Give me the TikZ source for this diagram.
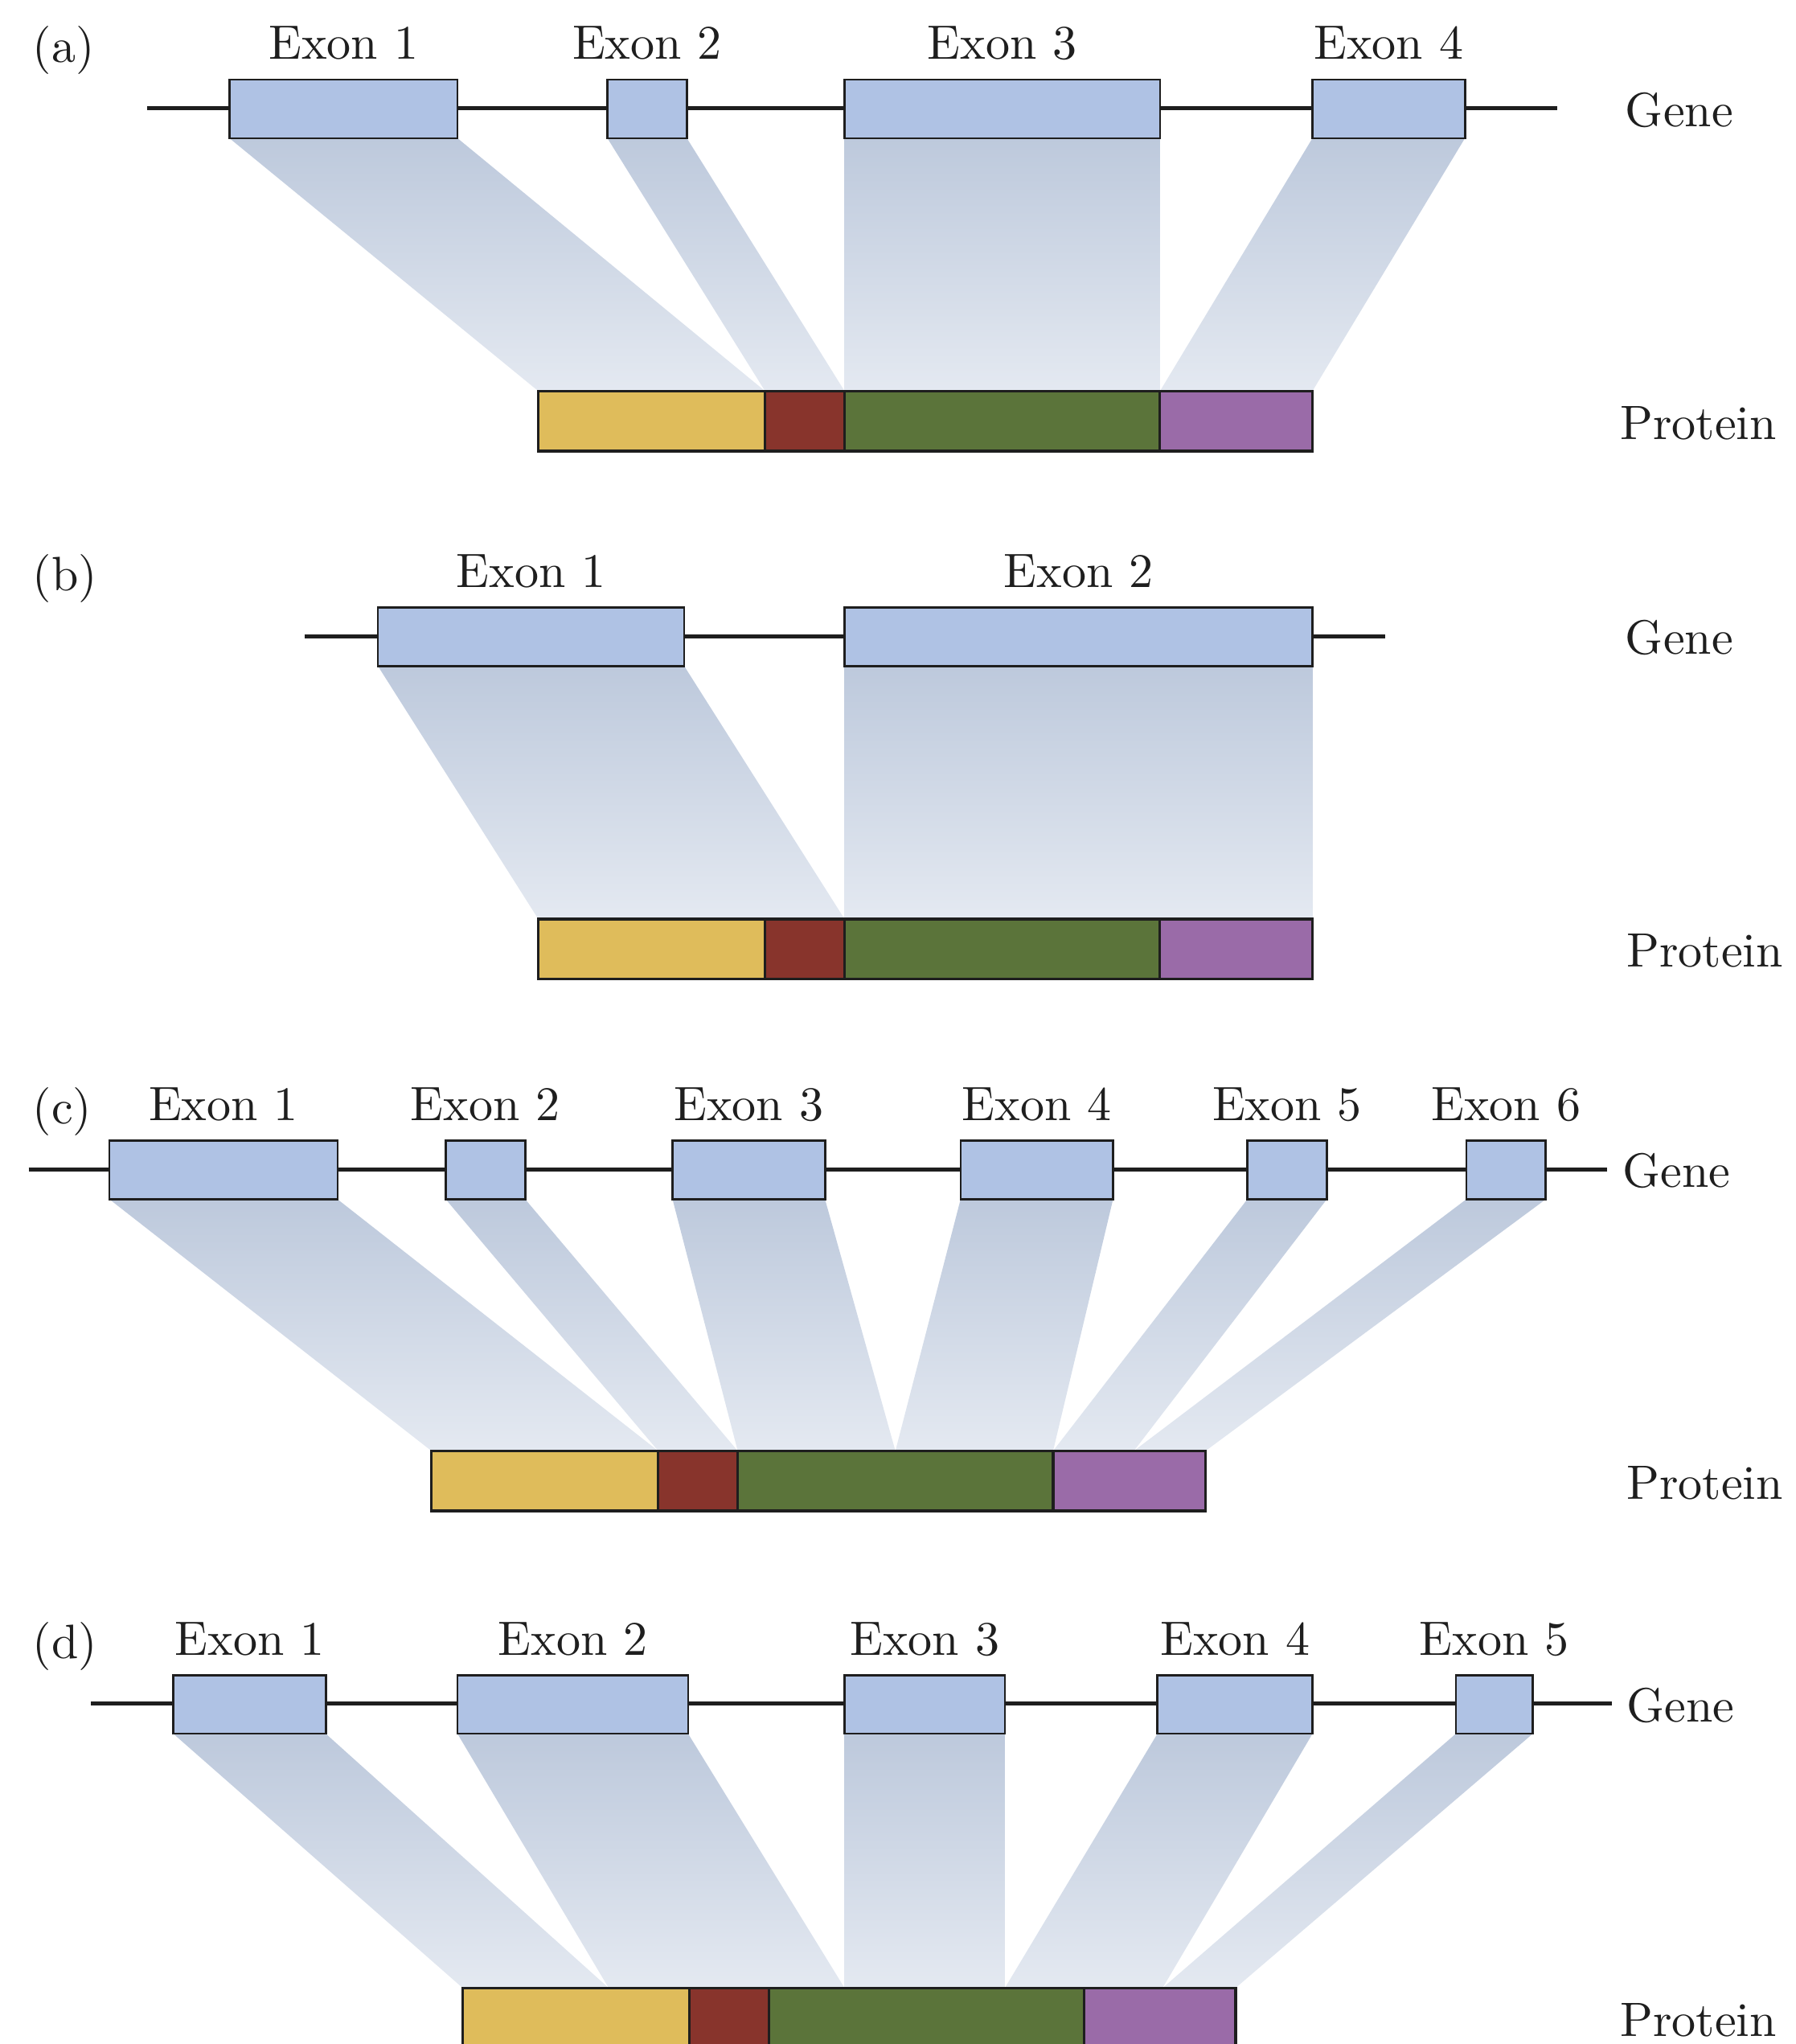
\documentclass[tikz,border=0pt]{standalone}
\usepackage{fontspec}
% the 10pt design of Latin Modern at every size (heavier, wider letters)
\setmainfont{lmroman10-regular.otf}
\pgfdeclarelayer{background}
\pgfsetlayers{background,main}
\definecolor{linecol}{HTML}{1E1E1E}
\definecolor{exonfill}{HTML}{AFC2E4}
\definecolor{shadetop}{HTML}{BDC9DC}
\definecolor{shadebot}{HTML}{E4E9F1}
\definecolor{domyellow}{HTML}{DFBC5B}
\definecolor{domred}{HTML}{88342C}
\definecolor{domgreen}{HTML}{5B743A}
\definecolor{dompurple}{HTML}{9A6BA8}

% exon box with its caption: name, left, right, top, caption
\newcommand\exonat[5]{%
  \node[exonbox, minimum width={(#3)-(#2)}] (#1) at ({((#2)+(#3))/2},{(#4)+22.5}) {};
  \node[lbl] (#1-t) at ({((#2)+(#3))/2},{(#4)-15.5}) {#5};
}
% protein domain segment: name, left, right, top, colour
\newcommand\protseg[5]{%
  \node[segbox, fill=#5, minimum width={(#3)-(#2)}] (#1) at ({((#2)+(#3))/2},{(#4)+23}) {};
}
% exon-to-protein band: exon node, left target, right target
\newcommand\band[3]{%
  \shade[link] (#1.south west) -- (#1.south east) -- (#3) -- (#2) -- cycle;
}

\begin{document}
\begin{tikzpicture}[x=1pt,y=-1pt,
  exonbox/.style={draw=linecol, line width=1.6pt, fill=exonfill, rectangle,
    inner sep=0pt, outer sep=0pt, minimum height=45pt},
  segbox/.style={draw=linecol, line width=2pt, rectangle,
    inner sep=0pt, outer sep=0pt, minimum height=46pt},
  geneline/.style={draw=linecol, line width=3pt},
  link/.style={top color=shadetop, bottom color=shadebot, draw=none},
  lbl/.style={inner sep=0pt, anchor=base, text=linecol,
    font=\fontsize{37}{44}\selectfont},
  side/.style={lbl, anchor=base west}]

\useasboundingbox (0,0) rectangle (1378,1568);

% ---------------- (a) ----------------
\node[side] (a-tag) at (25,48) {(a)};
\exonat{a1}{176}{351}{61}{Exon 1}
\exonat{a2}{466}{527}{61}{Exon 2}
\exonat{a3}{648}{890}{61}{Exon 3}
\exonat{a4}{1007}{1124}{61}{Exon 4}
\protseg{pa1}{413}{587}{300}{domyellow}
\protseg{pa2}{587}{648}{300}{domred}
\protseg{pa3}{648}{890}{300}{domgreen}
\protseg{pa4}{890}{1007}{300}{dompurple}
\node[side] (a-gene) at (1247,97) {Gene};
\node[side] (a-prot) at (1243,337) {Protein};
\coordinate (a-gl) at (113,83);
\coordinate (a-gr) at (1195,83);
\foreach \n/\x in {0/413,1/587,2/648,3/890,4/1007}
  \coordinate (a-p\n) at (\x,300);
\begin{pgfonlayer}{background}
  \draw[geneline] (a-gl) -- (a-gr);
  \band{a1}{a-p0}{a-p1}
  \band{a2}{a-p1}{a-p2}
  \band{a3}{a-p2}{a-p3}
  \band{a4}{a-p3}{a-p4}
\end{pgfonlayer}

% ---------------- (b) ----------------
\node[side] (b-tag) at (25,453) {(b)};
\exonat{b1}{290}{525}{466}{Exon 1}
\exonat{b2}{648}{1007}{466}{Exon 2}
\protseg{pb1}{413}{587}{705}{domyellow}
\protseg{pb2}{587}{648}{705}{domred}
\protseg{pb3}{648}{890}{705}{domgreen}
\protseg{pb4}{890}{1007}{705}{dompurple}
\node[side] (b-gene) at (1247,502) {Gene};
\node[side] (b-prot) at (1248,742) {Protein};
\coordinate (b-gl) at (234,488);
\coordinate (b-gr) at (1063,488);
\foreach \n/\x in {0/413,1/648,2/1007}
  \coordinate (b-p\n) at (\x,705);
\begin{pgfonlayer}{background}
  \draw[geneline] (b-gl) -- (b-gr);
  \band{b1}{b-p0}{b-p1}
  \band{b2}{b-p1}{b-p2}
\end{pgfonlayer}

% ---------------- (c) ----------------
\node[side] (c-tag) at (25,862) {(c)};
\exonat{c1}{84}{259}{875}{Exon 1}
\exonat{c2}{342}{403}{875}{Exon 2}
\exonat{c3}{516}{633}{875}{Exon 3}
\exonat{c4}{737}{854}{875}{Exon 4}
\exonat{c5}{957}{1018}{875}{Exon 5}
\exonat{c6}{1125}{1186}{875}{Exon 6}
\protseg{pc1}{331}{505}{1113}{domyellow}
\protseg{pc2}{505}{566}{1113}{domred}
\protseg{pc3}{566}{808}{1113}{domgreen}
\protseg{pc4}{808}{925}{1113}{dompurple}
\node[side] (c-gene) at (1245,911) {Gene};
\node[side] (c-prot) at (1248,1150) {Protein};
\coordinate (c-gl) at (22,897);
\coordinate (c-gr) at (1233,897);
\foreach \n/\x in {0/331,1/505,2/566,3/687,4/808,5/870,6/925}
  \coordinate (c-p\n) at (\x,1113);
\begin{pgfonlayer}{background}
  \draw[geneline] (c-gl) -- (c-gr);
  \band{c1}{c-p0}{c-p1}
  \band{c2}{c-p1}{c-p2}
  \band{c3}{c-p2}{c-p3}
  \band{c4}{c-p3}{c-p4}
  \band{c5}{c-p4}{c-p5}
  \band{c6}{c-p5}{c-p6}
\end{pgfonlayer}

% ---------------- (d) ----------------
\node[side] (d-tag) at (25,1272) {(d)};
\exonat{d1}{133}{250}{1285}{Exon 1}
\exonat{d2}{351}{528}{1285}{Exon 2}
\exonat{d3}{648}{771}{1285}{Exon 3}
\exonat{d4}{888}{1007}{1285}{Exon 4}
\exonat{d5}{1117}{1176}{1285}{Exon 5}
\protseg{pd1}{355}{529}{1525}{domyellow}
\protseg{pd2}{529}{590}{1525}{domred}
\protseg{pd3}{590}{832}{1525}{domgreen}
\protseg{pd4}{832}{948}{1525}{dompurple}
\node[side] (d-gene) at (1248,1321) {Gene};
\node[side] (d-prot) at (1243,1562) {Protein};
\coordinate (d-gl) at (70,1307);
\coordinate (d-gr) at (1237,1307);
\foreach \n/\x in {0/355,1/467,2/648,3/771,4/892,5/948}
  \coordinate (d-p\n) at (\x,1525);
\begin{pgfonlayer}{background}
  \draw[geneline] (d-gl) -- (d-gr);
  \band{d1}{d-p0}{d-p1}
  \band{d2}{d-p1}{d-p2}
  \band{d3}{d-p2}{d-p3}
  \band{d4}{d-p3}{d-p4}
  \band{d5}{d-p4}{d-p5}
\end{pgfonlayer}
\end{tikzpicture}
\end{document}
